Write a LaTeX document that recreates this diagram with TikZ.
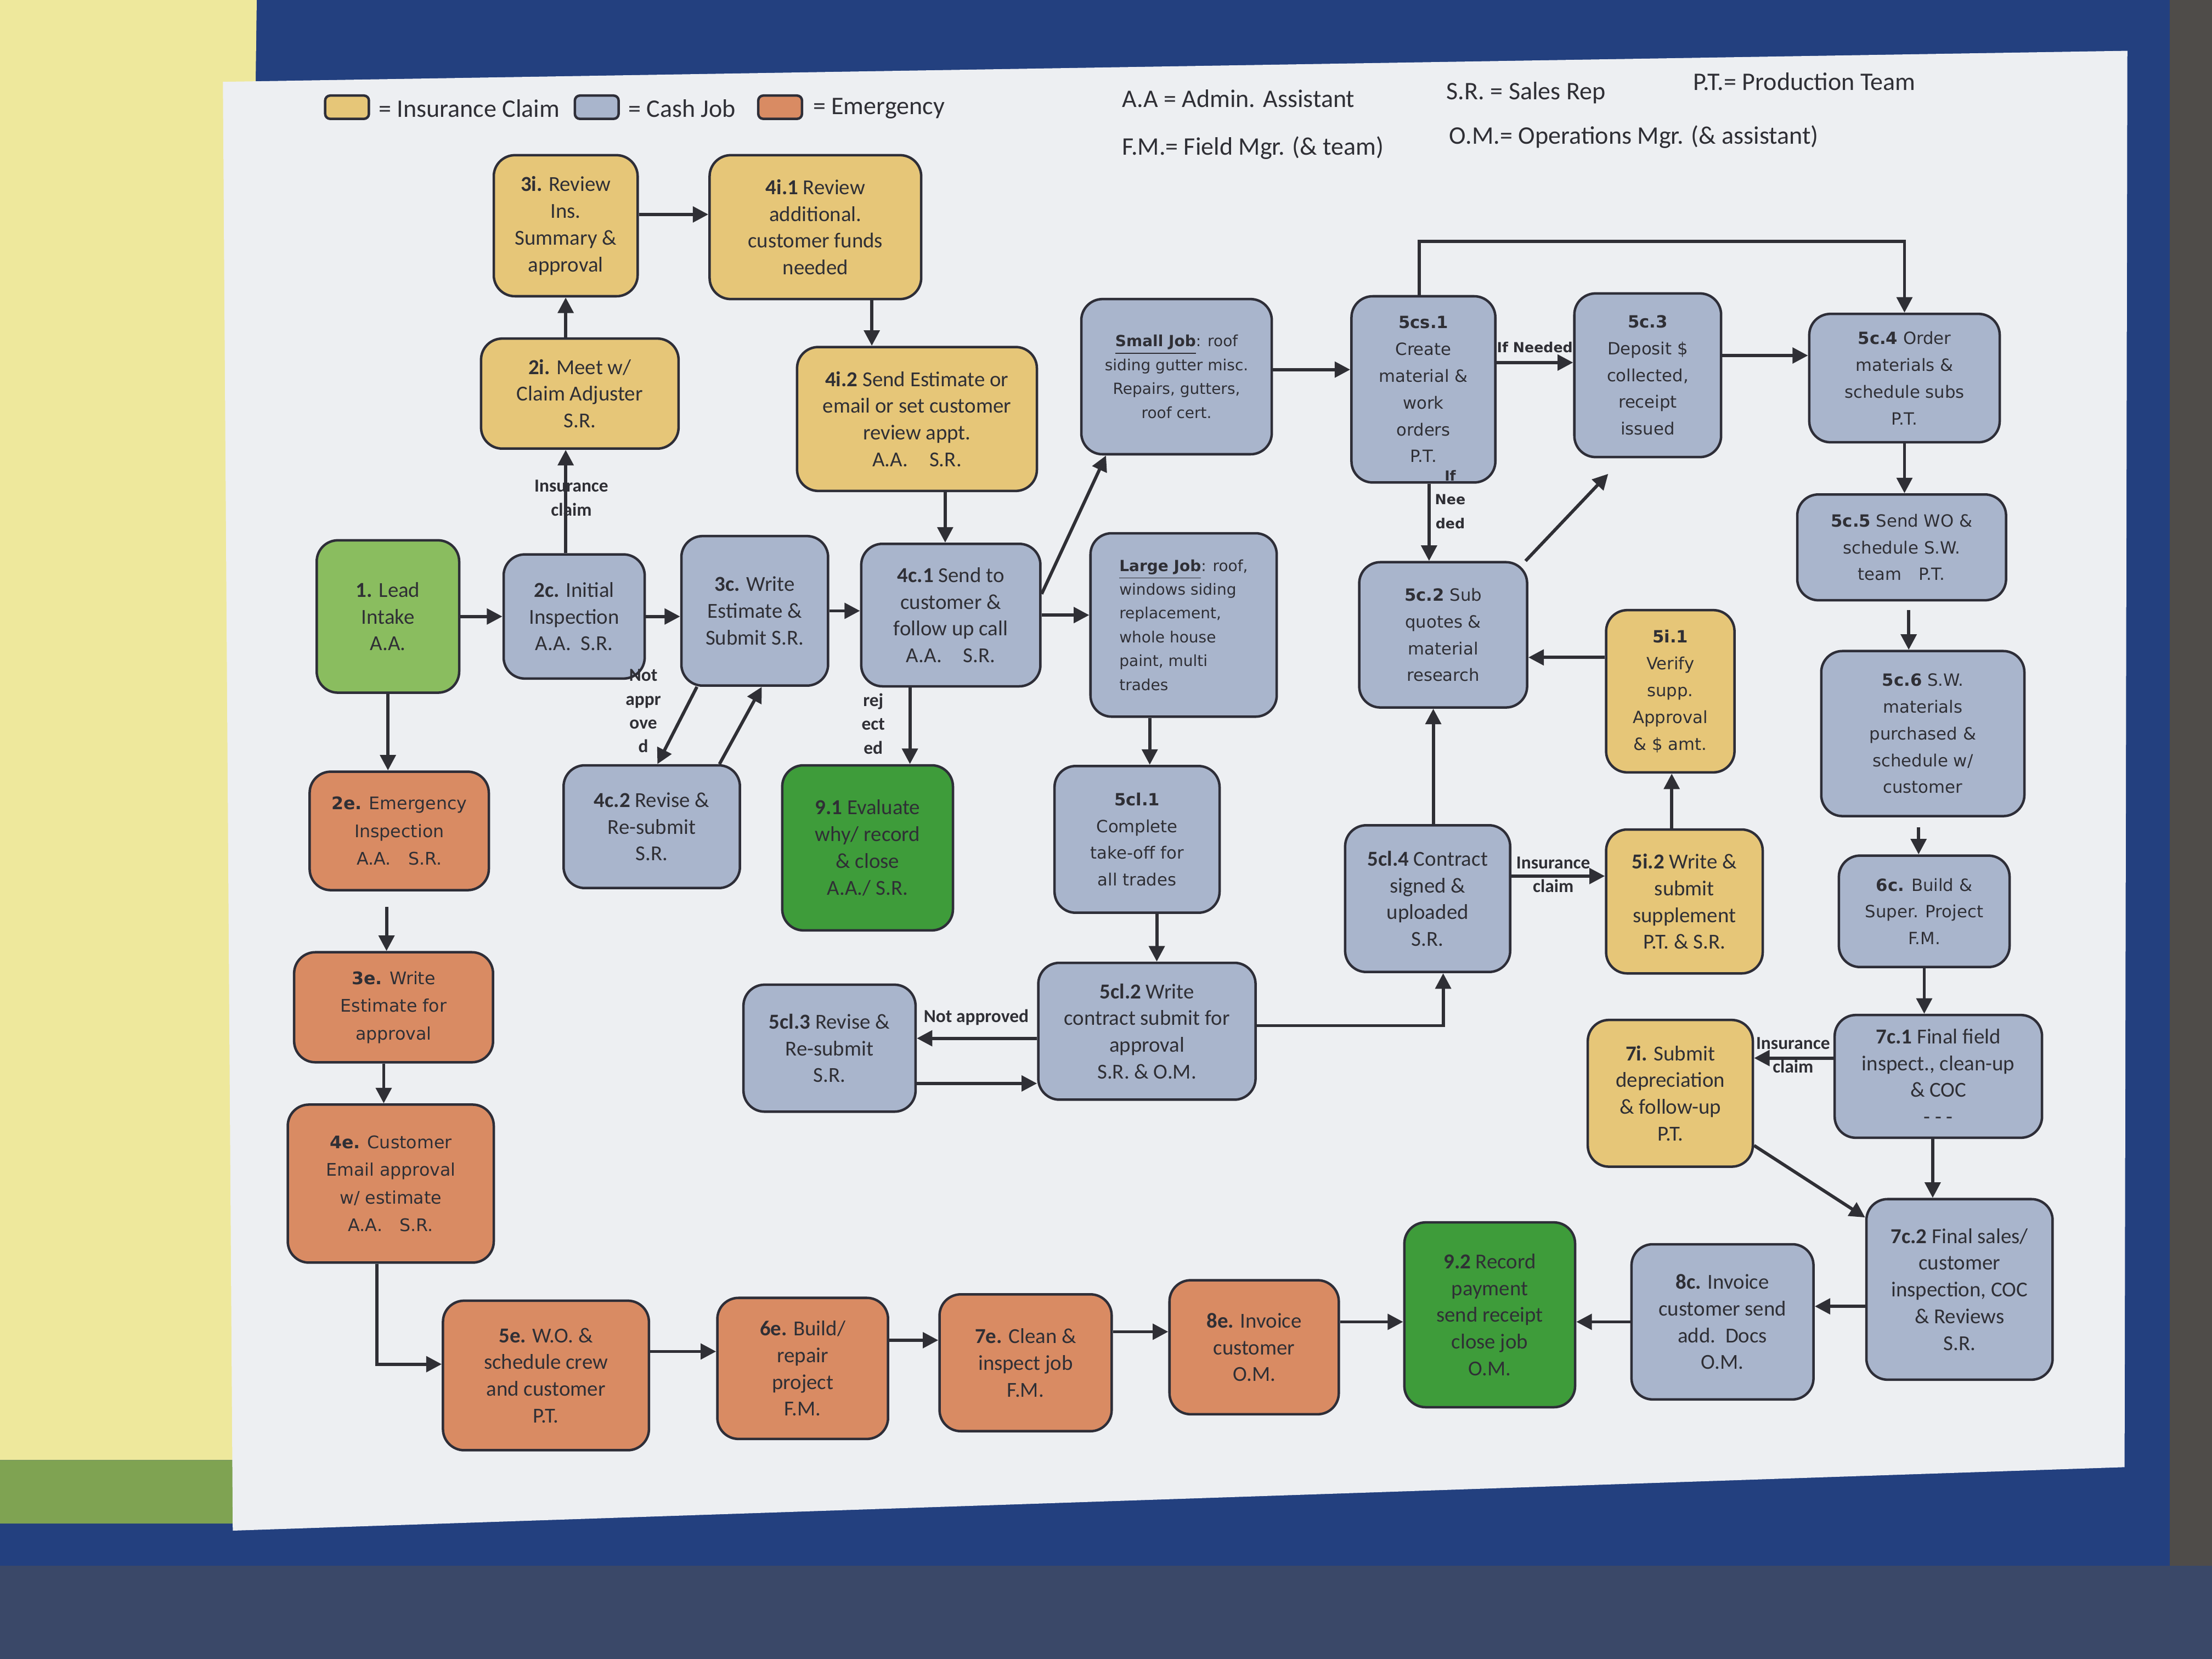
\documentclass[tikz,border=0pt]{standalone}
\usepackage{fontspec}
\setmainfont{Carlito}
\newfontfamily\widefont{DejaVu Sans}
\usetikzlibrary{arrows.meta}

\definecolor{insfill}{HTML}{E6C678}
\definecolor{cashfill}{HTML}{A9B5CC}
\definecolor{emgfill}{HTML}{D98B63}
\definecolor{leadfill}{HTML}{8ABD5F}
\definecolor{closefill}{HTML}{3E9C3A}
\definecolor{boxline}{HTML}{2E2E38}
\definecolor{textgray}{HTML}{2F2F35}
\definecolor{pagewhite}{HTML}{EDEFF2}
\definecolor{binderblue}{HTML}{23407F}
\definecolor{jeans}{HTML}{3A4868}
\definecolor{sheetyellow}{HTML}{EEE89C}
\definecolor{sheetgreen}{HTML}{7FA352}
\definecolor{seatgray}{HTML}{4F4C49}

\begin{document}
\begin{tikzpicture}[
        % one unit = one pixel of the (shrunk) sheet, y going down
        x=0.02cm, y=-0.02cm,
        % step boxes
        box/.style={
            draw=boxline,          % dark frame
            line width=1pt,
            rounded corners=0.3cm,
            align=center,
            inner sep=2pt,
            text=textgray,
            font=\fontsize{8.6}{10.8}\selectfont
        },
        wide/.style={box, font=\widefont\fontsize{6.8}{10.8}\selectfont},
        jobbox/.style={box, font=\widefont\fontsize{6.2}{9.6}\selectfont},
        emgbox/.style={box, fill=emgfill, font=\widefont\fontsize{7}{11.2}\selectfont},
        sz/.style 2 args={minimum width=#1*0.02cm, minimum height=#2*0.02cm},
        % fills (legend colours)
        insclaim/.style={fill=insfill},
        cashjob/.style={fill=cashfill},
        emergency/.style={fill=emgfill},
        leadstep/.style={fill=leadfill},
        closestep/.style={fill=closefill},
        % connectors
        flow/.style={
            draw=textgray,
            line width=1.3pt,
            -{Triangle[length=0.22cm,width=0.22cm]}
        },
        lbl/.style={font=\bfseries\fontsize{7.4}{9.6}\selectfont, text=textgray, align=center, inner sep=0pt},
        widelbl/.style={font=\widefont\bfseries\fontsize{5.6}{9.6}\selectfont, text=textgray, align=center, inner sep=0pt},
        % legend
        swatch/.style={draw=boxline, line width=1pt, rounded corners=2pt, minimum width=0.62cm, minimum height=0.33cm, inner sep=0pt},
        legtext/.style={font=\fontsize{10.2}{12}\selectfont, text=textgray, inner sep=0pt, anchor=west}
    ]
        \useasboundingbox (0,0) rectangle (1568,1176);

        % --- 0. background of the photo ---
        \fill[binderblue] (0,0) rectangle (1568,1176);
        \fill[jeans] (0,1110) rectangle (1568,1176);
        \fill[seatgray] (1538,0) rectangle (1568,1110);
        \fill[sheetyellow] (0,0) -- (182,0) -- (168,1035) -- (0,1035) -- cycle;
        \fill[sheetgreen] (0,1035) -- (168,1035) -- (166,1080) -- (0,1080) -- cycle;
        \fill[pagewhite] (158,58) -- (1508,36) -- (1506,1040) -- (165,1085) -- cycle;

        % --- 1. legend ---
        \node[swatch, insclaim] (legins) at (246,76) {};
        \node[legtext] (leginstxt) at (268,77) {= Insurance Claim};
        \node[swatch, cashjob] (legcash) at (423,76) {};
        \node[legtext] (legcashtxt) at (445,77) {= Cash Job};
        \node[swatch, emergency] (legemg) at (553,76) {};
        \node[legtext] (legemgtxt) at (576,77) {= Emergency};

        \node[legtext] (abbraa) at (795,70) {A.A = Admin. Assistant};
        \node[legtext] (abbrsr) at (1025,66) {S.R. = Sales Rep};
        \node[legtext] (abbrpt) at (1200,58) {P.T.= Production Team};
        \node[legtext] (abbrfm) at (795,105) {F.M.= Field Mgr. (\& team)};
        \node[legtext] (abbrom) at (1027,97) {O.M.= Operations Mgr. (\& assistant)};

        % --- 2. insurance branch (top left) ---
        \node[box, insclaim, sz={102}{100}] (review) at (401,160) {\textbf{3i.} Review\\Ins.\\Summary \&\\approval};
        \node[box, insclaim, sz={150}{102}] (addl) at (578,161) {\textbf{4i.1} Review\\additional.\\customer funds\\needed};
        \node[box, insclaim, sz={140}{78}] (meet) at (411,279) {\textbf{2i.} Meet w/\\Claim Adjuster\\S.R.};
        \node[box, insclaim, sz={170}{102}] (sendest) at (650,297) {\textbf{4i.2} Send Estimate or\\email or set customer\\review appt.\\A.A.\quad S.R.};

        % --- 3. lead and cash row ---
        \node[box, leadstep, sz={101}{108}] (lead) at (275,437) {\textbf{1.} Lead\\Intake\\A.A.};
        \node[box, cashjob, sz={100}{88}] (insp) at (407,437) {\textbf{2c.} Initial\\Inspection\\A.A.\ \ S.R.};
        \node[box, cashjob, sz={104}{106}] (est) at (535,433) {\textbf{3c.} Write\\Estimate \&\\Submit S.R.};
        \node[box, cashjob, sz={127}{101}] (send) at (674,436) {\textbf{4c.1} Send to\\customer \&\\follow up call\\A.A.\quad S.R.};
        \node[box, cashjob, sz={125}{87}] (resub) at (462,586) {\textbf{4c.2} Revise \&\\Re-submit\\S.R.};
        \node[box, closestep, sz={121}{117}] (evalj) at (615,601) {\textbf{9.1} Evaluate\\why/ record\\\& close\\A.A./ S.R.};

        % --- 4. small / large job ---
        \node[jobbox, cashjob, sz={135}{110}] (small) at (834,267) {\textbf{\underline{Small Job}}: roof\\siding gutter misc.\\Repairs, gutters,\\roof cert.};
        \node[jobbox, cashjob, sz={132}{130}, align=left] (large) at (839,443) {\textbf{\underline{Large Job}}: roof,\\windows siding\\replacement,\\whole house\\paint, multi\\trades};
        \node[wide, cashjob, sz={117}{104}] (takeoff) at (806,595) {\textbf{5cl.1}\\Complete\\take-off for\\all trades};
        \node[box, cashjob, sz={122}{90}] (revcon) at (588,743) {\textbf{5cl.3} Revise \&\\Re-submit\\S.R.};
        \node[box, cashjob, sz={154}{97}] (contract) at (813,731) {\textbf{5cl.2} Write\\contract submit for\\approval\\S.R. \& O.M.};

        % --- 5. production column ---
        \node[wide, cashjob, sz={102}{132}] (create) at (1009,276) {\textbf{5cs.1}\\Create\\material \&\\work\\orders\\P.T.};
        \node[wide, cashjob, sz={104}{116}] (deposit) at (1168,266) {\textbf{5c.3}\\Deposit \$\\collected,\\receipt\\issued};
        \node[wide, cashjob, sz={119}{103}] (subq) at (1023,450) {\textbf{5c.2} Sub\\quotes \&\\material\\research};
        \node[wide, insclaim, sz={91}{115}] (verify) at (1184,490) {\textbf{5i.1}\\Verify\\supp.\\Approval\\\& \$ amt.};
        \node[box, cashjob, sz={117}{104}] (signed) at (1012,637) {\textbf{5cl.4} Contract\\signed \&\\uploaded\\S.R.};
        \node[box, insclaim, sz={111}{102}] (writesupp) at (1194,639) {\textbf{5i.2} Write \&\\submit\\supplement\\P.T. \& S.R.};

        \node[wide, cashjob, sz={135}{91}] (order) at (1350,268) {\textbf{5c.4} Order\\materials \&\\schedule subs\\P.T.};
        \node[wide, cashjob, sz={148}{75}] (sendwo) at (1348,388) {\textbf{5c.5} Send WO \&\\schedule S.W.\\team\quad P.T.};
        \node[wide, cashjob, sz={144}{117}] (swmat) at (1363,520) {\textbf{5c.6} S.W.\\materials\\purchased \&\\schedule w/\\customer};
        \node[wide, cashjob, sz={121}{79}] (buildc) at (1364,646) {\textbf{6c.} Build \&\\Super. Project\\F.M.};

        % --- 6. closing steps ---
        \node[box, insclaim, sz={117}{104}] (depr) at (1184,775) {\textbf{7i.} Submit\\depreciation\\\& follow-up\\P.T.};
        \node[box, cashjob, sz={147}{87}] (finalfield) at (1374,763) {\textbf{7c.1} Final field\\inspect., clean-up\\\& COC\\- - -};
        \node[box, cashjob, sz={132}{128}] (finalsales) at (1389,914) {\textbf{7c.2} Final sales/\\customer\\inspection, COC\\\& Reviews\\S.R.};
        \node[box, cashjob, sz={129}{110}] (invc) at (1221,937) {\textbf{8c.} Invoice\\customer send\\add.\ \ Docs\\O.M.};
        \node[box, closestep, sz={121}{131}] (record) at (1056,932) {\textbf{9.2} Record\\payment\\send receipt\\close job\\O.M.};

        % --- 7. emergency branch ---
        \node[emgbox, sz={127}{84}] (emerg) at (283,589) {\textbf{2e.} Emergency\\Inspection\\A.A.\quad S.R.};
        \node[emgbox, sz={141}{78}] (writee) at (279,714) {\textbf{3e.} Write\\Estimate for\\approval};
        \node[emgbox, sz={146}{112}] (custe) at (277,839) {\textbf{4e.} Customer\\Email approval\\w/ estimate\\A.A.\quad S.R.};
        \node[box, emergency, sz={146}{106}] (woe) at (387,975) {\textbf{5e.} W.O. \&\\schedule crew\\and customer\\P.T.};
        \node[box, emergency, sz={121}{100}] (builde) at (569,970) {\textbf{6e.} Build/\\repair\\project\\F.M.};
        \node[box, emergency, sz={122}{97}] (cleane) at (727,966) {\textbf{7e.} Clean \&\\inspect job\\F.M.};
        \node[box, emergency, sz={120}{95}] (invoicee) at (889,955) {\textbf{8e.} Invoice\\customer\\O.M.};

        % --- 8. connectors ---
        % main cash row
        \draw[flow] (lead) -- (lead -| insp.west);
        \draw[flow] (insp) -- (insp -| est.west);
        \draw[flow] (est) -- (est -| send.west);
        \draw[flow] (send) -- (send -| large.west);
        \draw[flow] ([yshift=0.3cm]send.east) -- ([xshift=-1cm]small.south);

        % insurance claim loop
        \draw[flow] ([xshift=-0.12cm]insp.north) -- ([xshift=-0.12cm]insp.north |- meet.south);
        \node[lbl] (lblclaim1) at (405,353) {Insurance\\claim};
        \draw[flow] (meet.north -| review) -- (review.south);
        \draw[flow] ([yshift=0.16cm]review.east) -- ([yshift=0.16cm]review.east -| addl.west);
        \draw[flow] ([xshift=0.8cm]addl.south) -- ([xshift=0.8cm]addl.south |- sendest.north);
        \draw[flow] ([xshift=0.4cm]sendest.south) -- ([xshift=0.4cm]sendest.south |- send.north);

        % revise / reject
        \draw[flow] ([xshift=-0.82cm]est.south) -- ([xshift=0.08cm]resub.north);
        \draw[flow] ([xshift=0.96cm]resub.north) -- ([xshift=0.1cm]est.south);
        \node[lbl] (lblnot1) at (456,504) {Not\\appr\\ove\\d};
        \draw[flow] ([xshift=-0.58cm]send.south) -- ([xshift=-0.58cm]send.south |- evalj.north);
        \node[lbl] (lblrej) at (619,513) {rej\\ect\\ed};

        % emergency branch
        \draw[flow] (lead.south) -- (lead.south |- emerg.north);
        \draw[flow] ([xshift=-0.18cm,yshift=-0.22cm]emerg.south) -- ([xshift=-0.18cm]emerg.south |- writee.north);
        \draw[flow] ([xshift=-0.14cm]writee.south) -- ([xshift=-0.14cm]writee.south |- custe.north);
        \draw[flow] ([xshift=-0.2cm]custe.south) |- ([yshift=0.16cm]woe.west);
        \draw[flow] ([yshift=0.34cm]woe.east) -- ([yshift=0.34cm]woe.east -| builde.west);
        \draw[flow] ([yshift=0.4cm]builde.east) -- ([yshift=0.4cm]builde.east -| cleane.west);
        \draw[flow] ([yshift=0.44cm]cleane.east) -- ([yshift=0.44cm]cleane.east -| invoicee.west);
        \draw[flow] ([yshift=0.36cm]invoicee.east) -- ([yshift=0.36cm]invoicee.east -| record.west);

        % small and large job
        \draw[flow] ([yshift=0.1cm]small.east) -- ([yshift=0.1cm]small.east -| create.west);
        \draw[flow] ([xshift=-0.48cm]large.south) -- ([xshift=-0.48cm]large.south |- takeoff.north);
        \draw[flow] ([xshift=0.28cm]takeoff.south) -- ([xshift=0.28cm]takeoff.south |- contract.north);
        \draw[flow] ([yshift=-0.1cm]contract.west) -- ([yshift=-0.1cm]contract.west -| revcon.east);
        \node[lbl] (lblnot2) at (692,721) {Not approved};
        \draw[flow] ([yshift=-0.5cm]revcon.east) -- ([yshift=-0.5cm]revcon.east -| contract.west);
        \draw[flow] ([yshift=0.08cm]contract.east) -| ([xshift=0.22cm]signed.south);
        \draw[flow] ([xshift=0.08cm]signed.north) -- ([xshift=0.08cm]signed.north |- subq.south);
        \draw[flow] ([yshift=0.32cm]signed.east) -- ([yshift=0.32cm]signed.east -| writesupp.west);
        \node[lbl] (lblclaim2) at (1101,620) {Insurance\\claim};
        \draw[flow] ([xshift=-0.18cm]writesupp.north) -- ([xshift=-0.18cm]writesupp.north |- verify.south);
        \draw[flow] ([yshift=0.48cm]verify.west) -- ([yshift=0.48cm]verify.west -| subq.east);

        % production
        \draw[flow] ([xshift=0.08cm]create.south) -- ([xshift=0.08cm]create.south |- subq.north);
        \node[widelbl] (lblif) at (1028,354) {If\\Nee\\ded};
        \draw[flow] ([yshift=0.38cm]create.east) -- ([yshift=0.38cm]create.east -| deposit.west);
        \node[widelbl] (lblifneeded) at (1088,246) {If Needed};
        \draw[flow] ([xshift=-0.04cm]subq.north east) -- ([xshift=-0.56cm,yshift=-0.22cm]deposit.south);
        \draw[flow] ([xshift=-0.06cm]create.north) -- ++(0,-38) -| (order.north);
        \draw[flow] ([yshift=0.28cm]deposit.east) -- ([yshift=0.28cm]deposit.east -| order.west);
        \draw[flow] (order.south) -- (order.south |- sendwo.north);
        \draw[flow] ([xshift=0.1cm,yshift=-0.12cm]sendwo.south) -- ([xshift=0.1cm]sendwo.south |- swmat.north);
        \draw[flow] ([xshift=-0.06cm,yshift=-0.14cm]swmat.south) -- ([xshift=-0.06cm]swmat.south |- buildc.north);
        \draw[flow] (buildc.south) -- (buildc.south |- finalfield.north);

        % closing
        \draw[flow] ([yshift=0.26cm]finalfield.west) -- ([yshift=0.26cm]finalfield.west -| depr.east);
        \node[lbl] (lblclaim3) at (1271,748) {Insurance\\claim};
        \draw[flow] ([xshift=-0.08cm]finalfield.south) -- ([xshift=-0.08cm]finalfield.south |- finalsales.north);
        \draw[flow] ([yshift=-0.74cm]depr.east) -- ([yshift=1.02cm]finalsales.west);
        \draw[flow] ([yshift=-0.24cm]finalsales.west) -- ([yshift=-0.24cm]finalsales.west -| invc.east);
        \draw[flow] (invc) -- (invc -| record.east);

    \end{tikzpicture}
\end{document}
